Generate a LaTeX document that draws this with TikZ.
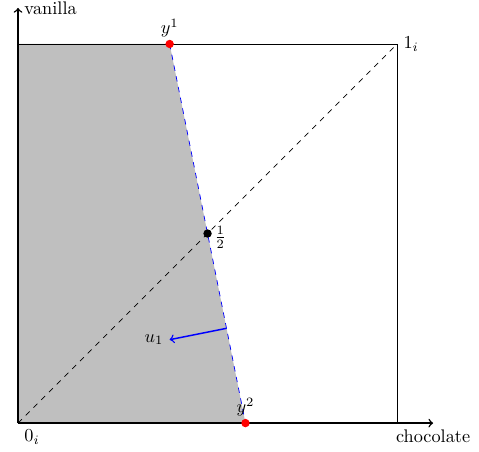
\documentclass[tikz,border=0pt]{standalone}
\usepackage{tikz}
\usetikzlibrary{calc, positioning}

\begin{document}
\begin{tikzpicture}[x=7.3cm, y=7.3cm,
  axis/.style={->, thick},
  frame/.style={draw=black},
  share/.style={fill=lightgray},
  diag/.style={dashed, black},
  cut/.style={dashed, blue},
  normal/.style={->, thick, blue},
  dot/.style={circle, inner sep=0pt, minimum size=4.6pt},
  reddot/.style={dot, fill=red},
  blackdot/.style={dot, fill=black},
]
\useasboundingbox (-0.0475,-0.074) rectangle (1.216,1.116);

\coordinate (O) at (0,0);
\coordinate (topleft) at (0,1);
\coordinate (one) at (1,1);
\coordinate (y1) at (0.4,1);
\coordinate (y2) at (0.6,0);
\coordinate (half) at (0.5,0.5);
\coordinate (xtip) at (1.095,0);
\coordinate (ytip) at (0,1.095);
\coordinate (ubase) at ($(y1)!0.75!(y2)$);
\coordinate (utip) at ($(ubase)+(-0.15,-0.03)$);

% shaded region
\fill[share] (O) -- (topleft) -- (y1) -- (y2) -- cycle;
\draw[frame] (O) rectangle (one);
\draw[diag] (O) -- (one);
\draw[cut] (y1) -- (y2);

% axes
\draw[axis] (O) -- (xtip);
\draw[axis] (O) -- (ytip);
\node[anchor=west] (vanilla) at (ytip) {vanilla};
\node[anchor=north] (chocolate) at (xtip) {chocolate};
\node[below right=0pt and 0pt] (zero) at (O) {$0_i$};
\node[right] (onelabel) at (one) {$1_i$};

% normal vector
\draw[normal] (ubase) -- (utip);
\node[left] (ulabel) at (utip) {$u_1$};

% points
\node[reddot, label={[inner sep=1pt]above:$y^1$}] (y1dot) at (y1) {};
\node[reddot, label={[inner sep=1pt]above:$y^2$}] (y2dot) at (y2) {};
\node[blackdot, label={[inner sep=1pt, yshift=-2pt]right:$\frac{1}{2}$}] (halfdot) at (half) {};
\end{tikzpicture}
\end{document}
